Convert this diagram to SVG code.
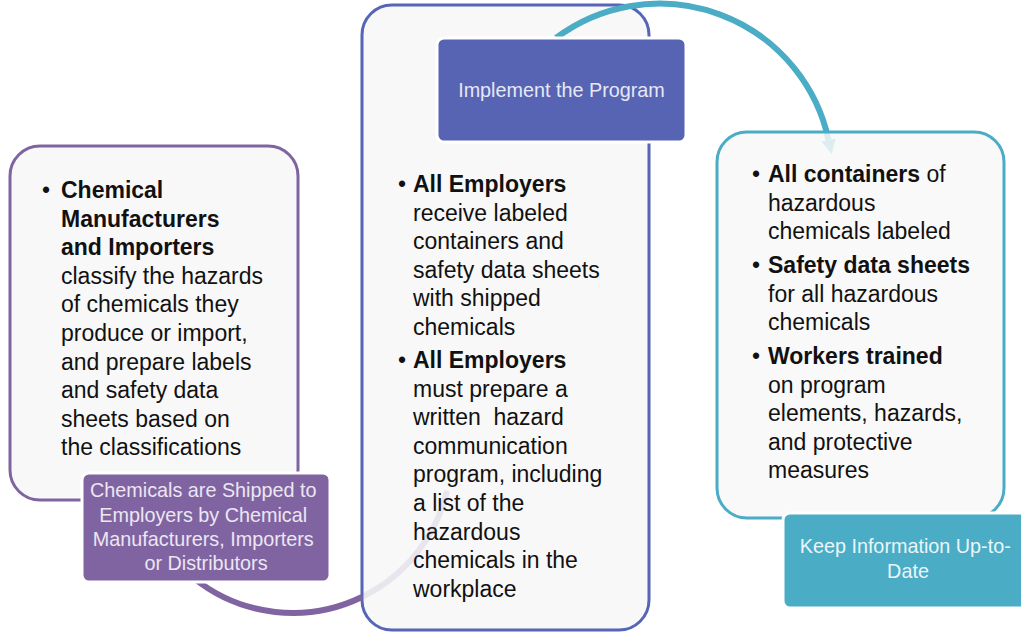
<svg xmlns="http://www.w3.org/2000/svg" width="1021" height="634" viewBox="0 0 1021 634">
<style>
.box{fill:#f8f8f8;stroke-width:3}
.body{font-family:"Liberation Sans",Arial,sans-serif;font-size:23px;fill:#111}
.b{font-weight:bold}
.lbl{font-family:"Liberation Sans",Arial,sans-serif;font-size:19.8px;text-anchor:middle}
.halo{stroke:#fff;stroke-width:3}
.arc{fill:none;stroke-width:6}
</style>
<defs>
<marker id="ah" viewBox="0 0 10 10" refX="0" refY="5" markerWidth="2.4" markerHeight="2.6" orient="auto" markerUnits="strokeWidth">
<path d="M0,0 L10,5 L0,10 z" fill="#4bacc6"/>
</marker>
</defs>
<rect width="1021" height="634" fill="#fff"/>

<g id="node-manufacturers">
<rect class="box" x="10" y="146" width="288" height="354" rx="30" stroke="#8064a2"/>
<text class="body" x="42" y="198">•</text>
<text class="body">
<tspan class="b" x="61" y="198">Chemical</tspan>
<tspan class="b" x="61" y="226.6">Manufacturers</tspan>
<tspan class="b" x="61" y="255.2">and Importers</tspan>
<tspan x="61" y="283.8">classify the hazards</tspan>
<tspan x="61" y="312.4">of chemicals they</tspan>
<tspan x="61" y="341">produce or import,</tspan>
<tspan x="61" y="369.6">and prepare labels</tspan>
<tspan x="61" y="398.2">and safety data</tspan>
<tspan x="61" y="426.8">sheets based on</tspan>
<tspan x="61" y="455.4">the classifications</tspan>
</text>
</g>

<g id="node-employers">
<rect class="box" x="362" y="5" width="287" height="625" rx="30" stroke="#5565b8"/>
<text class="body" x="398" y="192">•</text>
<text class="body" x="398" y="368">•</text>
<text class="body">
<tspan class="b" x="413" y="192">All Employers</tspan>
<tspan x="413" y="220.6">receive labeled</tspan>
<tspan x="413" y="249.2">containers and</tspan>
<tspan x="413" y="277.8">safety data sheets</tspan>
<tspan x="413" y="306.4">with shipped</tspan>
<tspan x="413" y="335">chemicals</tspan>
<tspan class="b" x="413" y="368">All Employers</tspan>
<tspan x="413" y="396.6">must prepare a</tspan>
<tspan x="413" y="425.2">written&#160; hazard</tspan>
<tspan x="413" y="453.8">communication</tspan>
<tspan x="413" y="482.4">program, including</tspan>
<tspan x="413" y="511">a list of the</tspan>
<tspan x="413" y="539.6">hazardous</tspan>
<tspan x="413" y="568.2">chemicals in the</tspan>
<tspan x="413" y="596.8">workplace</tspan>
</text>
</g>

<g id="connectors">
<path class="arc" stroke="#8064a2" d="M193.6,578 A158.4,158.4 0 0 0 362,597"/>
<path class="arc" stroke="#8064a2" stroke-opacity="0.12" d="M362,597 A158.4,158.4 0 0 0 447,490.7"/>
<path class="arc" stroke="#4bacc6" marker-end="url(#ah)" d="M556,38 A173,173 0 0 1 828.6,140"/>
</g>

<g id="node-workplace">
<rect class="box" x="717" y="132" width="287" height="386" rx="30" stroke="#4bacc6" fill-opacity="0.84"/>
<text class="body" x="752" y="182">•</text>
<text class="body" x="752" y="273">•</text>
<text class="body" x="752" y="364">•</text>
<text class="body">
<tspan x="768" y="182"><tspan class="b">All containers</tspan> of</tspan>
<tspan x="768" y="210.6">hazardous</tspan>
<tspan x="768" y="239.2">chemicals labeled</tspan>
<tspan class="b" x="768" y="273">Safety data sheets</tspan>
<tspan x="768" y="301.6">for all hazardous</tspan>
<tspan x="768" y="330.2">chemicals</tspan>
<tspan class="b" x="768" y="364">Workers trained</tspan>
<tspan x="768" y="392.6">on program</tspan>
<tspan x="768" y="421.2">elements, hazards,</tspan>
<tspan x="768" y="449.8">and protective</tspan>
<tspan x="768" y="478.4">measures</tspan>
</text>
</g>

<g id="label-shipped">
<rect class="halo" x="82" y="473" width="248" height="109" rx="7" fill="#8064a2"/>
<text class="lbl" fill="#ece6f2">
<tspan x="206" y="497">Chemicals are Shipped to</tspan>
<tspan x="206" y="521.5">Employers by Chemical</tspan>
<tspan x="206" y="546">Manufacturers, Importers</tspan>
<tspan x="206" y="570">or Distributors</tspan>
</text>
</g>

<g id="label-implement">
<rect class="halo" x="437" y="38" width="249" height="104" rx="7" fill="#5664b3"/>
<text class="lbl" fill="#e6e8f6" x="561.5" y="97">Implement the Program</text>
</g>

<g id="label-update">
<rect class="halo" x="783" y="513" width="250" height="95" rx="7" fill="#4bacc6"/>
<text class="lbl" fill="#eaf6f9">
<tspan x="908" y="553">Keep Information Up-to-</tspan>
<tspan x="908" y="578">Date</tspan>
</text>
</g>
</svg>
